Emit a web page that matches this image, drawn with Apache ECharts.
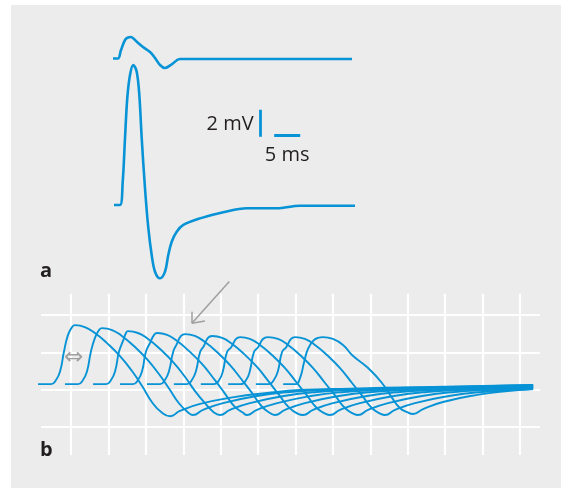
<!DOCTYPE html>
<html><head><meta charset="utf-8">
<script src="https://cdn.jsdelivr.net/npm/echarts@6/dist/echarts.min.js"></script>
<style>html,body{margin:0;padding:0;background:#fff}#c{width:561px;height:488px}</style>
</head><body><div id="c"></div>
<script>
// ---- Panel a: time in ms, potential in mV ----
const topTrace = [[0,0],[0.96,0],[1.54,0.63],[2.31,1.37],[2.88,1.56],[3.46,1.59],[4.04,1.44],[4.62,1.22],[5.77,0.85],[7.12,0.48],[8.08,0.04],[9.04,-0.48],[10.0,-0.70],[11.35,-0.41],[12.88,-0.04],[45.96,-0.04]];
const bottomTrace = [[0.19,0],[1.35,0],[1.87,1.73],[2.31,4.96],[2.75,7.93],[3.27,9.63],[3.90,10.37],[4.56,9.87],[5.06,8.15],[5.52,4.96],[6.15,1.26],[6.79,-1.70],[7.44,-3.70],[8.08,-4.94],[9.04,-5.43],[10.0,-4.94],[10.63,-3.70],[11.29,-2.72],[12.25,-1.98],[13.52,-1.48],[16.73,-0.99],[21.21,-0.54],[25.71,-0.24],[31.48,-0.24],[35.96,-0.05],[46.54,-0.05]];
const scaleV = [[28.4,5.05],[28.4,7.05]];   // 2 mV
const scaleH = [[31.0,5.13],[36.0,5.13]];   // 5 ms
const scaleLabels = [{text:'2 mV', at:[28.4,6.0], pos:'left'},{text:'5 ms', at:[33.5,3.70], pos:'inside'}];

// ---- Panel b: grid divisions ----
const gridX = [0,1,2,3,4,5,6,7,8,9,10,11,12];
const gridY = [0,1,2,3];
const gridXExtent = [-0.8,12.53];
const gridYExtent = [-0.75,3.57];
const traceB0 = [[-0.88,1.15],[-0.53,1.15],[-0.40,1.26],[-0.29,1.50],[-0.19,2.01],[-0.08,2.47],[0.03,2.68],[0.11,2.73],[0.37,2.68],[0.64,2.52],[0.96,2.25],[1.31,1.90],[1.63,1.50],[1.90,1.10],[2.16,0.67],[2.41,0.40],[2.65,0.29],[2.91,0.43],[3.45,0.62],[4.36,0.80],[5.24,0.91],[6.12,0.99],[7.46,1.03],[9.33,1.07],[12.35,1.13]];
const traceB1 = [[-0.16,1.15],[0.19,1.15],[0.32,1.26],[0.43,1.50],[0.53,2.01],[0.64,2.39],[0.75,2.60],[0.83,2.65],[1.10,2.60],[1.36,2.44],[1.68,2.17],[2.03,1.82],[2.35,1.42],[2.62,1.03],[2.89,0.63],[3.13,0.39],[3.26,0.32],[3.53,0.46],[4.06,0.64],[4.97,0.83],[5.85,0.94],[6.73,0.99],[8.07,1.03],[9.94,1.07],[12.35,1.13]];
const traceB2 = [[0.59,1.15],[0.94,1.15],[1.07,1.26],[1.18,1.50],[1.28,2.01],[1.39,2.31],[1.47,2.52],[1.52,2.57],[1.79,2.52],[2.06,2.36],[2.38,2.09],[2.73,1.74],[3.05,1.34],[3.31,0.97],[3.58,0.64],[3.82,0.39],[3.98,0.32],[4.25,0.46],[4.78,0.64],[5.69,0.83],[6.57,0.94],[7.46,0.99],[8.79,1.03],[10.66,1.06],[12.35,1.11]];
const traceB3 = [[1.31,1.15],[1.66,1.15],[1.79,1.26],[1.90,1.50],[2.00,2.01],[2.11,2.25],[2.22,2.47],[2.30,2.52],[2.57,2.47],[2.83,2.31],[3.15,2.04],[3.50,1.69],[3.82,1.29],[4.09,0.93],[4.36,0.56],[4.60,0.38],[4.70,0.32],[4.97,0.46],[5.51,0.64],[6.41,0.83],[7.30,0.94],[8.18,0.99],[9.51,1.03],[11.38,1.06],[12.35,1.10]];
const traceB4 = [[2.03,1.15],[2.38,1.15],[2.51,1.26],[2.62,1.50],[2.73,2.01],[2.83,2.23],[2.94,2.44],[3.05,2.49],[3.31,2.44],[3.58,2.28],[3.90,2.01],[4.25,1.66],[4.57,1.26],[4.84,0.91],[5.10,0.55],[5.34,0.36],[5.45,0.32],[5.72,0.46],[6.25,0.64],[7.16,0.83],[8.04,0.94],[8.93,0.99],[10.26,1.03],[12.35,1.09]];
const traceB5 = [[2.75,1.15],[3.10,1.15],[3.23,1.26],[3.34,1.50],[3.45,2.01],[3.55,2.17],[3.66,2.39],[3.77,2.44],[4.04,2.39],[4.30,2.23],[4.62,1.96],[4.97,1.61],[5.29,1.21],[5.56,0.86],[5.83,0.52],[6.07,0.35],[6.20,0.32],[6.47,0.46],[7.00,0.64],[7.91,0.83],[8.79,0.94],[9.67,0.99],[11.01,1.03],[12.35,1.07]];
const traceB6 = [[3.47,1.15],[3.82,1.15],[3.96,1.26],[4.06,1.50],[4.17,2.01],[4.28,2.14],[4.41,2.36],[4.52,2.41],[4.78,2.36],[5.05,2.20],[5.37,1.93],[5.72,1.58],[6.04,1.18],[6.31,0.84],[6.57,0.51],[6.81,0.35],[6.92,0.32],[7.19,0.46],[7.72,0.64],[8.63,0.83],[9.51,0.94],[10.40,0.99],[12.35,1.06]];
const traceB7 = [[4.20,1.15],[4.54,1.15],[4.68,1.26],[4.78,1.50],[4.89,2.01],[5.00,2.14],[5.13,2.36],[5.26,2.41],[5.53,2.36],[5.80,2.20],[6.12,1.93],[6.47,1.58],[6.79,1.18],[7.06,0.84],[7.32,0.51],[7.56,0.35],[7.67,0.32],[7.94,0.46],[8.47,0.64],[9.38,0.83],[10.26,0.94],[11.14,0.99],[12.35,1.05]];
const traceB8 = [[4.94,1.15],[5.29,1.15],[5.42,1.26],[5.53,1.50],[5.64,2.01],[5.75,2.14],[5.88,2.36],[5.99,2.41],[6.25,2.36],[6.52,2.20],[6.84,1.93],[7.19,1.58],[7.51,1.18],[7.78,0.84],[8.04,0.51],[8.28,0.35],[8.39,0.32],[8.66,0.46],[9.19,0.64],[10.10,0.83],[10.98,0.94],[11.87,0.99],[12.35,1.02]];
const traceB9 = [[5.67,1.15],[6.01,1.15],[6.12,1.31],[6.23,1.74],[6.33,2.09],[6.47,2.31],[6.60,2.39],[6.73,2.41],[7.00,2.36],[7.27,2.20],[7.51,1.93],[7.94,1.58],[8.31,1.18],[8.58,0.78],[8.79,0.51],[8.98,0.40],[9.14,0.35],[9.41,0.48],[9.94,0.67],[10.85,0.86],[11.73,0.97],[12.35,1.02]];
const tracesB = [traceB0,traceB1,traceB2,traceB3,traceB4,traceB5,traceB6,traceB7,traceB8,traceB9];
const arrowTail = [4.23,3.90], arrowTip = [3.23,2.78], arrowWings = [[3.23,3.09],[3.58,2.84]];
const intervalMark = {text:'⇔', at:[0.07,1.85]};

const BLUE = '#0793d6', GRAY = '#a0a0a0', INK = '#231f20';
const chart = echarts.init(document.getElementById('c'), null, {renderer:'canvas'});

const series = [];
// grid lines of panel b
const gridLines = [];
gridX.forEach(x => gridLines.push({coords:[[x,gridYExtent[0]],[x,gridYExtent[1]]]}));
gridY.forEach(y => gridLines.push({coords:[[gridXExtent[0],y],[gridXExtent[1],y]]}));
series.push({type:'lines', coordinateSystem:'cartesian2d', xAxisIndex:2, yAxisIndex:2, silent:true,
  lineStyle:{color:'#ffffff', width:2.2, opacity:1}, data:gridLines, z:1});
tracesB.forEach(tr => series.push({type:'line', xAxisIndex:2, yAxisIndex:2, data:tr, smooth:0.5,
  showSymbol:false, symbol:'none', clip:false, lineStyle:{color:BLUE, width:1.9}, z:3}));
series.push({type:'lines', coordinateSystem:'cartesian2d', xAxisIndex:2, yAxisIndex:2, silent:true,
  lineStyle:{color:GRAY, width:1.5, opacity:1},
  data:[{coords:[arrowTail,arrowTip]},{coords:[arrowTip,arrowWings[0]]},{coords:[arrowTip,arrowWings[1]]}], z:4});
series.push({type:'scatter', xAxisIndex:2, yAxisIndex:2, symbolSize:0, itemStyle:{color:GRAY, opacity:1},
  data:[{value:intervalMark.at}], label:{show:true, position:'inside', formatter:intervalMark.text,
  fontSize:23, color:GRAY, opacity:1, fontFamily:'DejaVu Sans'}, z:4});
// panel a
series.push({type:'line', xAxisIndex:0, yAxisIndex:0, data:topTrace, smooth:0.35, showSymbol:false, symbol:'none', clip:false,
  lineStyle:{color:BLUE, width:2.6}});
series.push({type:'line', xAxisIndex:1, yAxisIndex:1, data:bottomTrace, smooth:0.35, showSymbol:false, symbol:'none', clip:false,
  lineStyle:{color:BLUE, width:2.6}});
series.push({type:'lines', coordinateSystem:'cartesian2d', xAxisIndex:1, yAxisIndex:1, silent:true,
  lineStyle:{color:BLUE, width:2.8, opacity:1}, data:[{coords:scaleV},{coords:scaleH}]});
series.push({type:'scatter', xAxisIndex:1, yAxisIndex:1, symbolSize:0, itemStyle:{color:INK, opacity:1},
  data:scaleLabels.map(s => ({value:s.at, label:{show:true, position:s.pos, distance:7, formatter:s.text,
    fontSize:20, color:INK, opacity:1, fontFamily:'Open Sans'}}))});

chart.setOption({
  animation:false,
  backgroundColor:'#ffffff',
  graphic:[
    {type:'rect', z:-10, shape:{x:11,y:5,width:550,height:483}, style:{fill:'#ebeceb'}},
    {type:'text', x:40, y:271, style:{text:'a', font:'bold 20px "Open Sans"', fill:INK, textVerticalAlign:'middle'}},
    {type:'text', x:40, y:450, style:{text:'b', font:'bold 20px "Open Sans"', fill:INK, textVerticalAlign:'middle'}}
  ],
  grid:[
    {left:113, top:18, width:260, height:81},
    {left:113, top:56.5, width:260, height:229.5},
    {left:33.58, top:277.8, width:523.88, height:186.5}
  ],
  xAxis:[
    {gridIndex:0, type:'value', min:0, max:50, show:false},
    {gridIndex:1, type:'value', min:0, max:50, show:false},
    {gridIndex:2, type:'value', min:-1, max:13, show:false}
  ],
  yAxis:[
    {gridIndex:0, type:'value', min:-3, max:3, show:false},
    {gridIndex:1, type:'value', min:-6, max:11, show:false},
    {gridIndex:2, type:'value', min:-1, max:4, show:false}
  ],
  series:series
});
</script></body></html>
